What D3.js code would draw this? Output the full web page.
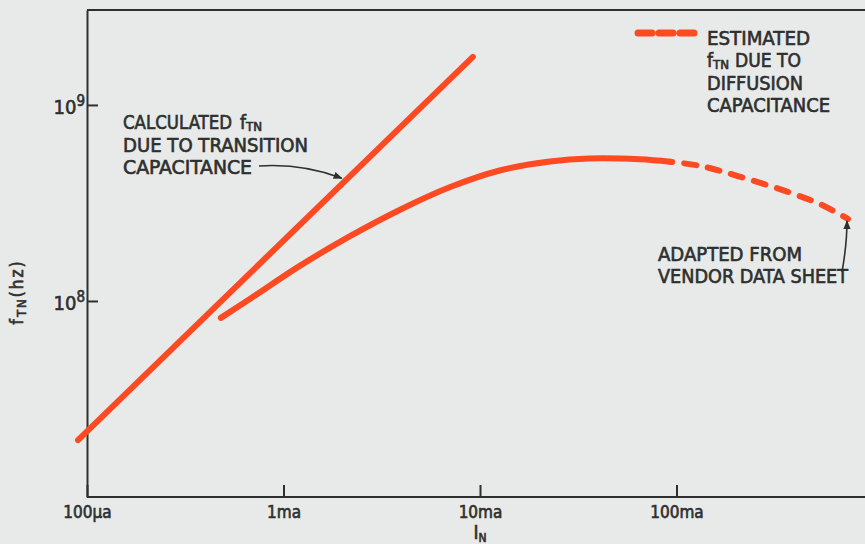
<!DOCTYPE html>
<html>
<head>
<meta charset="utf-8">
<script src="https://cdn.jsdelivr.net/npm/d3@7"></script>
<style>
  html, body { margin: 0; padding: 0; background: #e8eae9; }
  svg { display: block; }
  text { font-family: "DejaVu Sans Condensed", "DejaVu Sans", sans-serif; fill: #2e302f; stroke: #2e302f; stroke-width: 0.6px; }
</style>
</head>
<body>
<svg id="chart" width="865" height="544"></svg>
<script>
// ---- data (current in amperes, frequency in hertz) ----
const calcCurrent = [9.0e-5, 9.2e-3];
const calcFreq    = [1.95e7, 1.76e9];

const vendorCurrent = [4.8e-4, 6.8e-4, 1.21e-3, 2.18e-3, 3.92e-3, 7.0e-3, 1.26e-2, 2.27e-2, 3.6e-2, 6.5e-2, 9.3e-2];
const vendorFreq    = [8.2e7, 1.03e8, 1.51e8, 2.14e8, 2.92e8, 3.80e8, 4.63e8, 5.14e8, 5.33e8, 5.28e8, 5.13e8];

const estCurrent = [9.3e-2, 0.132, 0.203, 0.369, 0.550, 0.746];
const estFreq    = [5.13e8, 4.89e8, 4.35e8, 3.60e8, 3.09e8, 2.62e8];

const xTickValues = [1e-4, 1e-3, 1e-2, 1e-1];
const xTickLabels = ["100\u03BCa", "1ma", "10ma", "100ma"];
const yTickValues = [1e8, 1e9];
const yTickBase   = ["10", "10"];
const yTickExp    = ["8", "9"];

const xDomain = [1e-4, 1];
const yDomain = [1e7, 3.05e9];

// ---- layout ----
const svg = d3.select("#chart");
const W = 865, H = 544;
const mLeft = 87, mBottom = 497, mTop = 10, mRight = 873;
const red = "#fd4a22";
const ink = "#2e302f";

const x = d3.scaleLog().domain(xDomain).range([mLeft, mRight]);
const y = d3.scaleLog().domain(yDomain).range([mBottom, mTop]);

// background
svg.append("rect").attr("width", W).attr("height", H).attr("fill", "#e8eae9");

// frame top line
svg.append("line")
  .attr("x1", x(xDomain[0])).attr("x2", W)
  .attr("y1", y(yDomain[1])).attr("y2", y(yDomain[1]))
  .attr("stroke", ink).attr("stroke-width", 2);

// y axis
const yAxis = svg.append("g")
  .attr("transform", `translate(${mLeft},0)`)
  .call(d3.axisLeft(y).tickValues(yTickValues).tickSize(-11).tickSizeOuter(0).tickFormat(() => ""));
yAxis.select(".domain").attr("stroke", ink).attr("stroke-width", 2);
yAxis.selectAll(".tick line").attr("stroke", ink).attr("stroke-width", 2);
yAxis.selectAll(".tick text").remove();
yAxis.selectAll(".tick").each(function(d, i) {
  const t = d3.select(this).append("text")
    .attr("x", -2).attr("y", 9)
    .attr("text-anchor", "end")
    .attr("font-size", 20).attr("font-family", "DejaVu Sans, sans-serif");
  t.append("tspan").text(yTickBase[i]);
  t.append("tspan").attr("dy", -8).attr("font-size", 15).text(yTickExp[i]);
});

// x axis
const xAxis = svg.append("g")
  .attr("transform", `translate(0,${mBottom})`)
  .call(d3.axisBottom(x).tickValues(xTickValues).tickSize(-12).tickSizeOuter(0).tickFormat((d, i) => xTickLabels[i]));
xAxis.select(".domain").attr("stroke", ink).attr("stroke-width", 2).attr("d", `M${mLeft},0H${W}`);
xAxis.selectAll(".tick line").attr("stroke", ink).attr("stroke-width", 2);
xAxis.selectAll(".tick text")
  .attr("y", 21).attr("dy", 0)
  .attr("font-size", 17).attr("font-family", "DejaVu Sans, sans-serif")
  .style("fill", ink);

// axis titles
const xt = svg.append("text")
  .attr("x", x(1e-2)).attr("y", 539)
  .attr("text-anchor", "middle").attr("font-size", 19);
xt.append("tspan").text("I");
xt.append("tspan").attr("dy", 3).attr("font-size", 12).text("N");

const yt = svg.append("text")
  .attr("transform", `translate(23,292) rotate(-90)`)
  .attr("text-anchor", "middle").attr("font-size", 17).attr("letter-spacing", 2);
yt.append("tspan").text("f");
yt.append("tspan").attr("dy", 3).attr("font-size", 13).text("TN");
yt.append("tspan").attr("dy", -3).text("(hz)");

// ---- series ----
const smooth = d3.line().x(d => x(d[0])).y(d => y(d[1])).curve(d3.curveCatmullRom.alpha(0.5));

svg.append("path")
  .datum(calcCurrent.map((c, i) => [c, calcFreq[i]]))
  .attr("d", d3.line().x(d => x(d[0])).y(d => y(d[1])))
  .attr("fill", "none").attr("stroke", red).attr("stroke-width", 6).attr("stroke-linecap", "round");

svg.append("path")
  .datum(vendorCurrent.map((c, i) => [c, vendorFreq[i]]))
  .attr("d", smooth)
  .attr("fill", "none").attr("stroke", red).attr("stroke-width", 6).attr("stroke-linecap", "round");

svg.append("path")
  .datum(estCurrent.map((c, i) => [c, estFreq[i]]))
  .attr("d", smooth)
  .attr("fill", "none").attr("stroke", red).attr("stroke-width", 6)
  .attr("stroke-linecap", "round").attr("stroke-dasharray", "12,12").attr("stroke-dashoffset", -14);

// legend sample
svg.append("line")
  .attr("x1", 638).attr("x2", 697).attr("y1", 33).attr("y2", 33)
  .attr("stroke", red).attr("stroke-width", 7).attr("stroke-linecap", "round")
  .attr("stroke-dasharray", "14,7");

// ---- annotations ----
svg.append("defs").append("marker")
  .attr("id", "ah").attr("viewBox", "0 0 10 10").attr("refX", 9).attr("refY", 5)
  .attr("markerWidth", 9).attr("markerHeight", 9).attr("orient", "auto-start-reverse")
  .attr("markerUnits", "userSpaceOnUse")
  .append("path").attr("d", "M0,1 L10,5 L0,9 Z").attr("fill", ink);

function block(x0, y0, lines, lh) {
  lines.forEach((ln, i) => {
    const t = svg.append("text").attr("x", x0).attr("y", y0 + i * lh)
      .attr("font-size", 19);
    ln.forEach(seg => {
      const s = t.append("tspan").text(seg.t);
      if (seg.sub) s.attr("font-size", 12).attr("dy", 2);
      if (seg.up) s.attr("dy", -2);
      if (seg.dx) s.attr("dx", seg.dx);
      if (seg.len) { s.attr("textLength", seg.len).attr("lengthAdjust", "spacingAndGlyphs"); }
    });
  });
}

block(123, 129, [
  [{t: "CALCULATED", len: 109}, {t: "f", dx: 8}, {t: "TN", sub: true, len: 16}],
  [{t: "DUE TO TRANSITION", len: 185}],
  [{t: "CAPACITANCE", len: 129}]
], 22.5);

block(707, 45, [
  [{t: "ESTIMATED", len: 103}],
  [{t: "f"}, {t: "TN", sub: true, len: 16}, {t: "DUE TO", up: true, dx: 6, len: 66}],
  [{t: "DIFFUSION", len: 96}],
  [{t: "CAPACITANCE", len: 123}]
], 22.3);

block(658, 261, [
  [{t: "ADAPTED FROM", len: 144}],
  [{t: "VENDOR DATA SHEET", len: 190}]
], 21.5);

// arrow to calculated line
const aI = 2.05e-3;
const aF = Math.pow(10, d3.scaleLinear().domain(calcCurrent.map(Math.log10)).range(calcFreq.map(Math.log10))(Math.log10(aI)));
const ax = x(aI), ay = y(aF);
svg.append("path")
  .attr("d", `M259,166 C290,164 320,170 ${ax - 3},${ay - 3}`)
  .attr("fill", "none").attr("stroke", ink).attr("stroke-width", 1.6)
  .attr("marker-end", "url(#ah)");

// arrow to end of estimated line
const ex = x(estCurrent[estCurrent.length - 1]), ey = y(estFreq[estFreq.length - 1]);
svg.append("path")
  .attr("d", `M842,272 C845,255 847,240 ${ex - 1},${ey + 2}`)
  .attr("fill", "none").attr("stroke", ink).attr("stroke-width", 1.6)
  .attr("marker-end", "url(#ah)");
</script>
</body>
</html>
